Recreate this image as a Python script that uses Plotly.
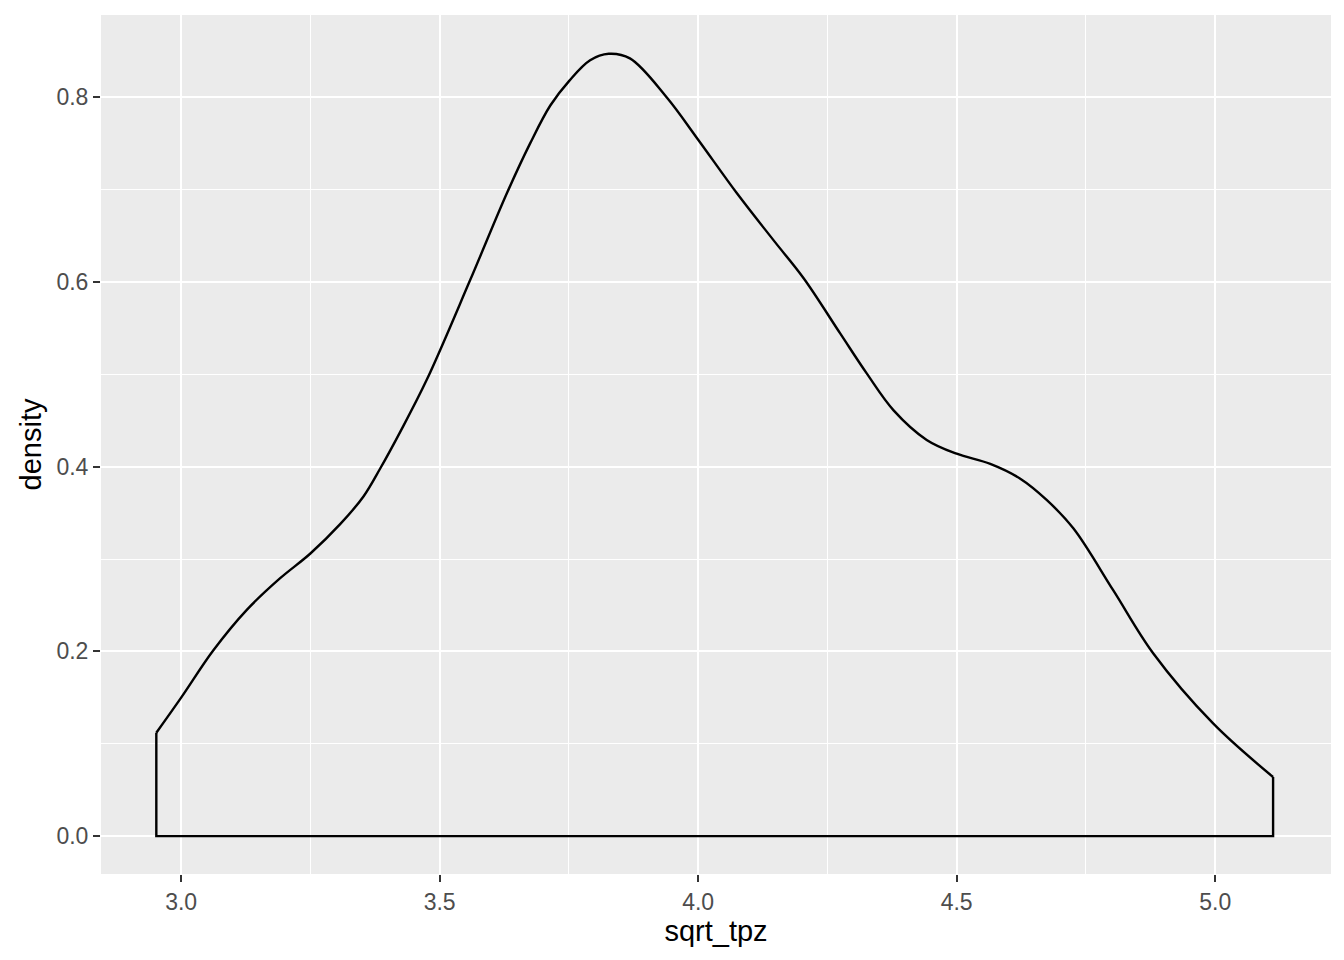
import plotly.graph_objects as go


# ==========================================================
# Data
# ==========================================================

sqrt_tpz = [
    2.952, 3.000, 3.062, 3.127, 3.191, 3.250, 3.308, 3.353, 3.385, 3.424,
    3.475, 3.559, 3.630, 3.675, 3.714, 3.751, 3.791, 3.827, 3.868, 3.939,
    4.000, 4.075, 4.146, 4.204, 4.275, 4.326, 4.378, 4.442, 4.500, 4.565,
    4.623, 4.674, 4.726, 4.803, 4.880, 4.996, 5.112
]

density = [
    0.112, 0.150, 0.201, 0.245, 0.279, 0.306, 0.338, 0.368, 0.398, 0.438,
    0.494, 0.602, 0.696, 0.750, 0.791, 0.818, 0.840, 0.847, 0.842, 0.800,
    0.754, 0.696, 0.645, 0.604, 0.544, 0.501, 0.461, 0.429, 0.414, 0.403,
    0.387, 0.364, 0.333, 0.266, 0.198, 0.122, 0.064
]

x_ticks = [3.0, 3.5, 4.0, 4.5, 5.0]
y_ticks = [0.0, 0.2, 0.4, 0.6, 0.8]


# ==========================================================
# Figure
# ==========================================================

fig = go.Figure()

# curve
fig.add_trace(
    go.Scatter(
        x=sqrt_tpz,
        y=density,
        mode="lines",
        line=dict(color="black", width=2.4, shape="spline", smoothing=1.0),
        hoverinfo="skip",
        showlegend=False
    )
)

# closing edges of the density polygon
fig.add_trace(
    go.Scatter(
        x=[sqrt_tpz[0], sqrt_tpz[0], sqrt_tpz[-1], sqrt_tpz[-1]],
        y=[density[0], 0, 0, density[-1]],
        mode="lines",
        line=dict(color="black", width=2.4),
        hoverinfo="skip",
        showlegend=False
    )
)

axis_common = dict(
    showgrid=True,
    gridcolor="white",
    gridwidth=2,
    zeroline=False,
    showline=False,
    ticks="outside",
    ticklen=7,
    tickwidth=2,
    tickcolor="#333333",
    tickfont=dict(family="Liberation Sans, Arial, sans-serif", size=23, color="#4D4D4D"),
    title_font=dict(family="Liberation Sans, Arial, sans-serif", size=29, color="black"),
)

fig.update_xaxes(
    **axis_common,
    range=[2.845, 5.224],
    tickvals=x_ticks,
    ticktext=[f"{v:.1f}" for v in x_ticks],
    minor=dict(dtick=0.25, tick0=2.75, showgrid=True, gridcolor="white", gridwidth=1, ticks=""),
    title_text="sqrt_tpz",
    title_standoff=4,
)

fig.update_yaxes(
    **axis_common,
    range=[-0.041, 0.889],
    tickvals=y_ticks,
    ticktext=[f"{v:.1f}" for v in y_ticks],
    minor=dict(dtick=0.1, tick0=0.1, showgrid=True, gridcolor="white", gridwidth=1, ticks=""),
    title_text="density",
    title_standoff=6,
)

fig.update_layout(
    width=1336,
    height=952,
    plot_bgcolor="#EBEBEB",
    paper_bgcolor="white",
    margin=dict(l=93, r=13, t=7, b=86),
    font=dict(family="Liberation Sans, Arial, sans-serif"),
)

fig.write_html("out.html")
